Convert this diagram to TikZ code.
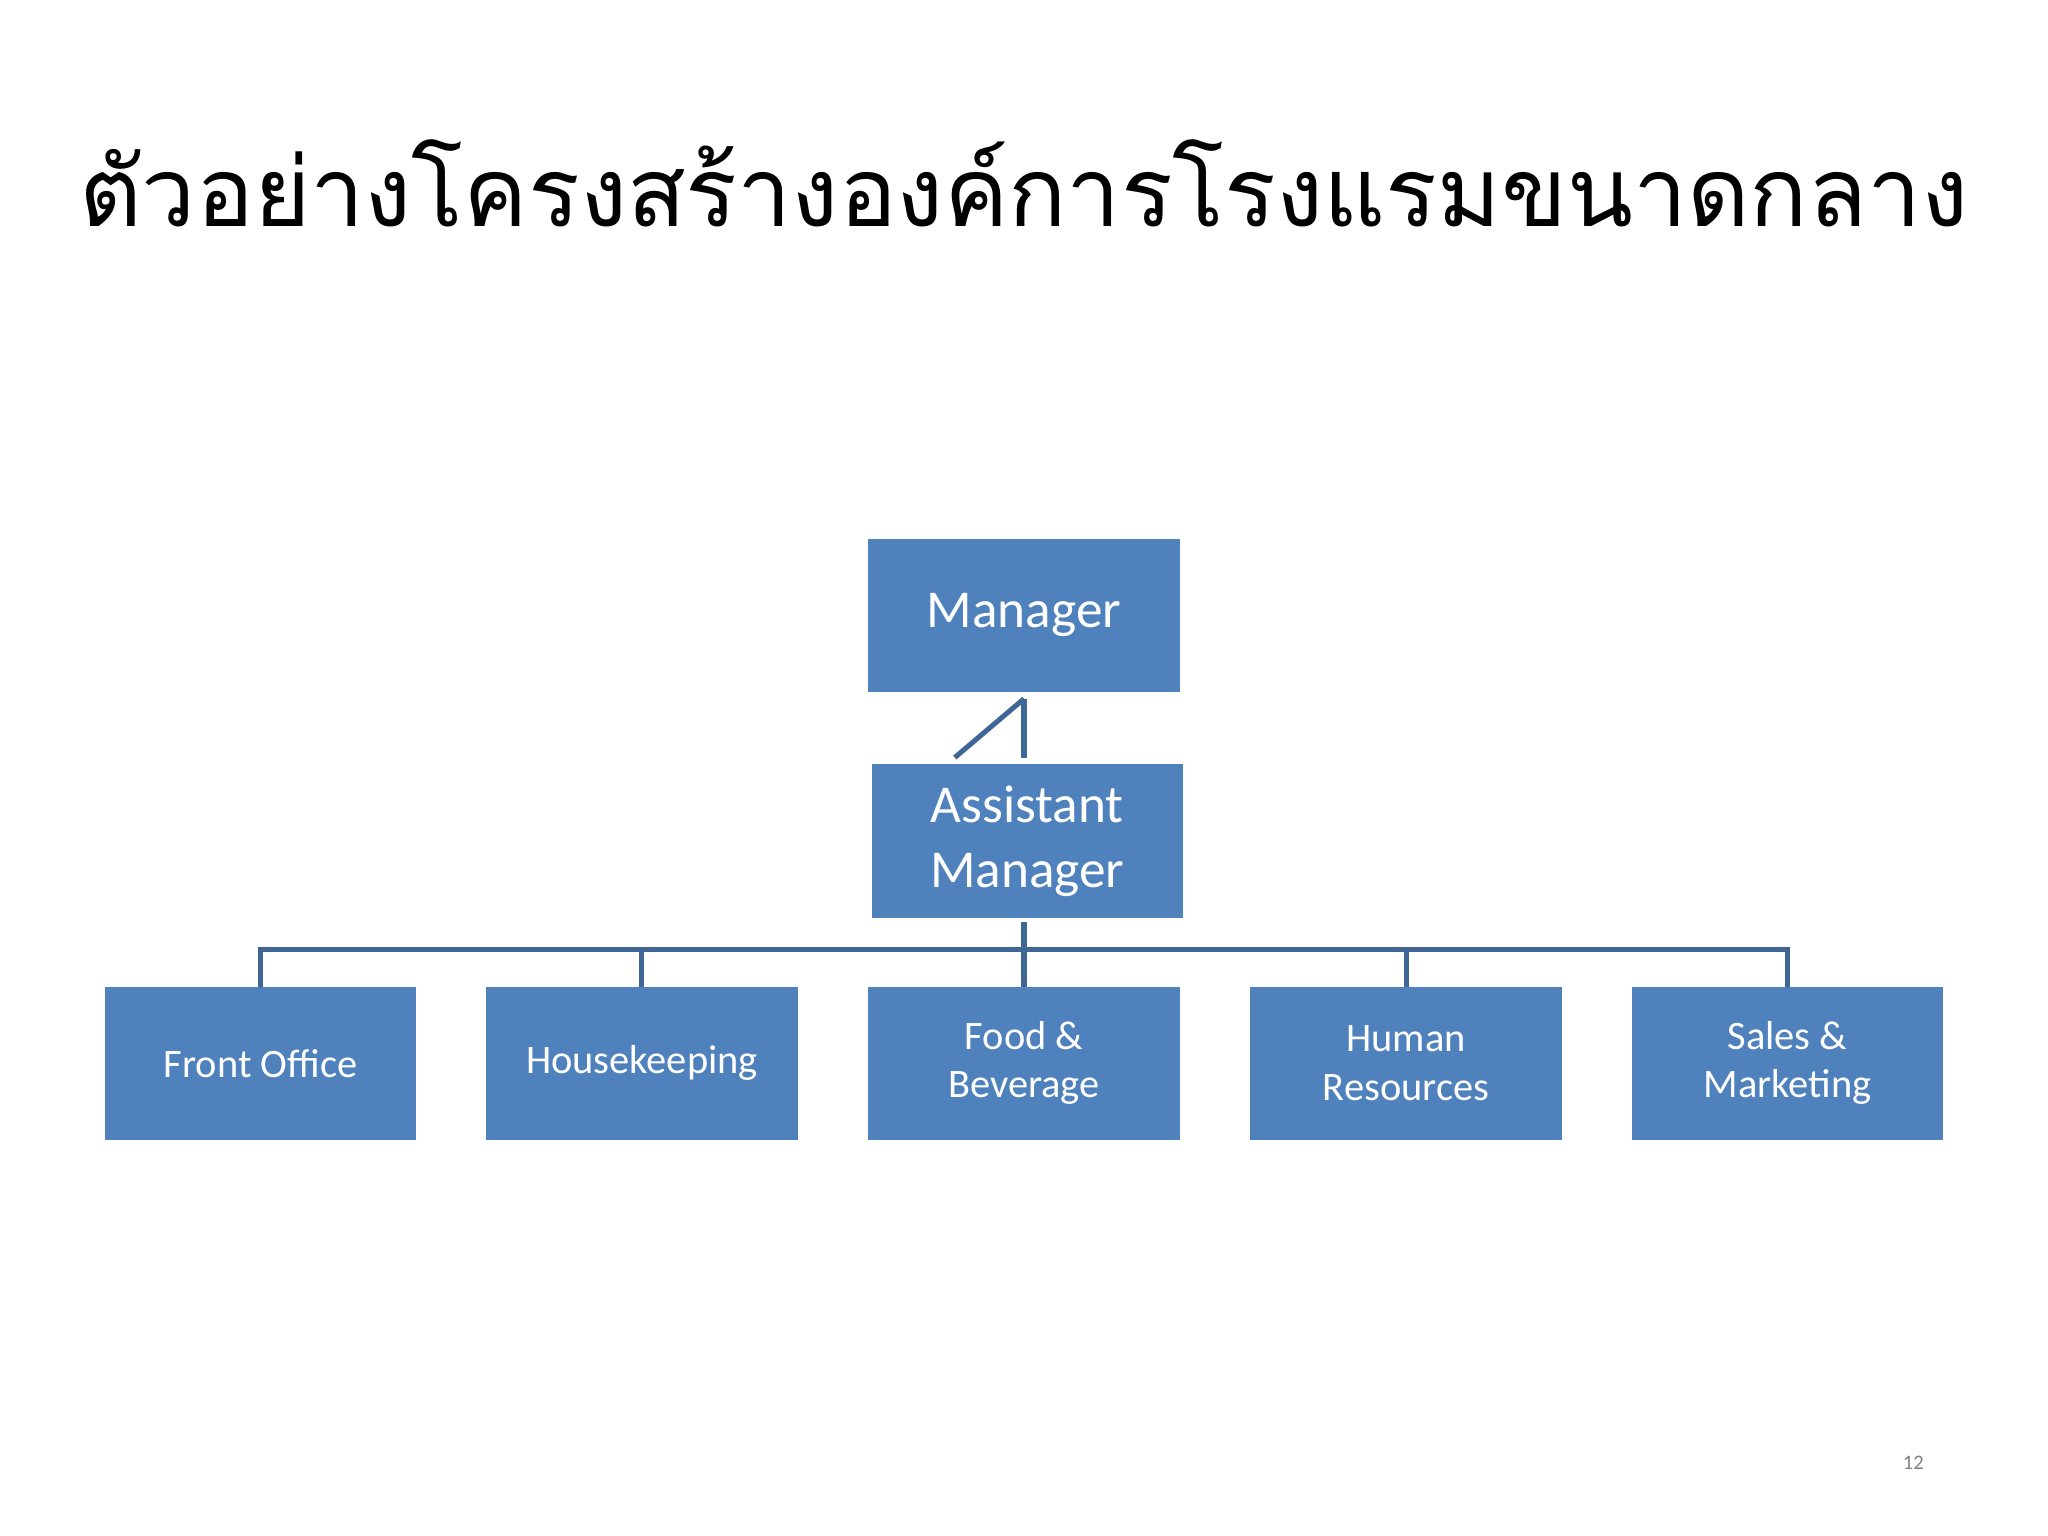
\documentclass[tikz,border=0pt]{standalone}
\usepackage{fontspec}
\setsansfont{Carlito}
\newfontfamily\thaifont[Script=Thai]{Loma}
\definecolor{boxfill}{HTML}{4F81BD}
\definecolor{linec}{HTML}{3F6696}
\begin{document}
\begin{tikzpicture}[x=0.01cm,y=-0.01cm,
  box/.style={draw=boxfill,fill=boxfill,minimum width=237*0.01cm,minimum height=116*0.01cm,inner sep=0pt,
    text=white,font=\sffamily\fontsize{8.8}{10.5}\selectfont,align=center},
  big/.style={font=\sffamily\fontsize{11.6}{14}\selectfont},
  conn/.style={draw=linec,line width=1.1pt}]
\useasboundingbox (0,0) rectangle (1568,1176);
\node[font=\thaifont\fontsize{21}{24}\selectfont] (title) at (784,140) {ตัวอย่างโครงสร้างองค์การโรงแรมขนาดกลาง};
\node[box,big] (mgr) at (784,471) {Manager};
\node[box,big] (asst) at (786.5,644) {Assistant\\Manager};
\node[box] (fo) at (199.5,814) {Front Office};
\node[box] (hk) at (491.5,814) {Housekeeping};
\node[box] (fb) at (784,814) {Food \&\\Beverage};
\node[box] (hr) at (1076.5,814) {Human\\Resources};
\node[box] (sm) at (1368.5,814) {Sales \&\\Marketing};
\node[text=gray,font=\sffamily\fontsize{4.5}{5}\selectfont] (pg) at (1465,1120) {12};
\coordinate (top) at (784,535);
\draw[conn] (top) -- (784,580);
\draw[conn] (top) -- (731,580);
\draw[conn] (784,706) -- (fb.north);
\draw[conn] (fo.north) -- ++(0,-28) -| (sm.north);
\draw[conn] (hk.north) -- ++(0,-28);
\draw[conn] (hr.north) -- ++(0,-28);
\end{tikzpicture}
\end{document}
